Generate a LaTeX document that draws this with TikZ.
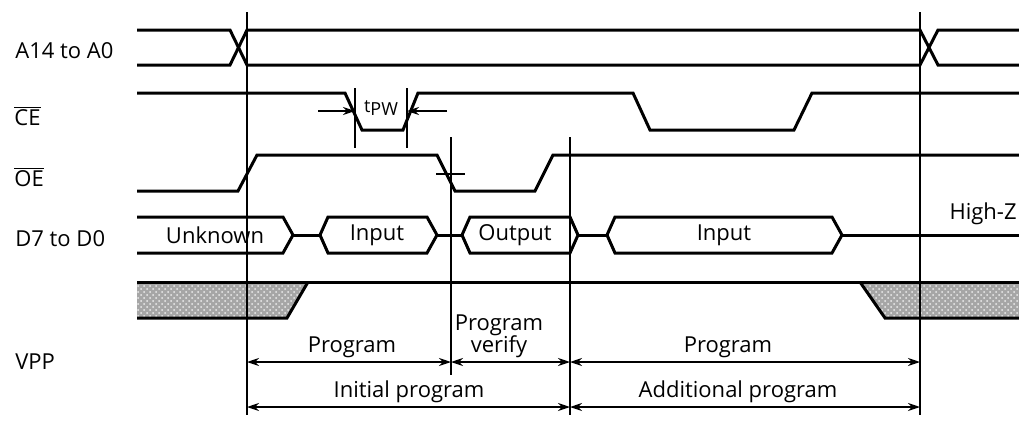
\documentclass[tikz,border=0pt]{standalone}
\usepackage{fontspec}
\setmainfont{Open Sans}
\usetikzlibrary{arrows.meta, patterns}

\begin{document}
\begin{tikzpicture}[x=0.5pt, y=-0.5pt,
    sig/.style={line width=1.5pt, line join=miter},
    marker/.style={line width=0.8pt},
    dim/.style={line width=0.75pt, {Stealth[length=6pt,width=4pt]}-{Stealth[length=6pt,width=4pt]}},
    lbl/.style={font=\fontsize{11}{13}\selectfont, inner sep=0pt},
    hatch/.style={fill=gray!70, postaction={pattern=crosshatch dots, pattern color=white!85!gray}}
]
\useasboundingbox (0,0) rectangle (1019,424);

% signal names
\node[lbl, anchor=west] (addr) at (15,51) {A14 to A0};
\node[lbl, anchor=west] (ce) at (14,116) {$\overline{\mbox{CE}}$};
\node[lbl, anchor=west] (oe) at (14,177) {$\overline{\mbox{OE}}$};
\node[lbl, anchor=west] (data) at (15,239) {D7 to D0};
\node[lbl, anchor=west] (vpp) at (15,362) {VPP};

% VPP hatched areas
\fill[hatch] (137,282) -- (308,282) -- (287,318) -- (137,318) -- cycle;
\fill[hatch] (860,282) -- (1019,282) -- (1019,318) -- (885,318) -- cycle;

% time markers
\draw[marker] (247,12) -- (247,415);
\draw[marker] (920,12) -- (920,415);
\draw[marker] (451,137) -- (451,375);
\draw[marker] (570,137) -- (570,415);

% A14 to A0
\draw[sig] (137,30) -- (230,30) -- (247,65) -- (920,65) -- (938,30) -- (1019,30);
\draw[sig] (137,65) -- (230,65) -- (247,30) -- (920,30) -- (938,65) -- (1019,65);

% CE
\draw[sig] (137,93) -- (345,93) -- (362,130) -- (403,130) -- (418,93) -- (633,93)
    -- (650,130) -- (794,130) -- (812,93) -- (1019,93);
\draw[marker] (355,88) -- (355,148);
\draw[marker] (407,88) -- (407,148);
\coordinate (pwl) at (355,111);
\coordinate (pwr) at (407,111);
\coordinate (pwl0) at (318,111);
\coordinate (pwr0) at (447,111);
\draw[marker, -{Stealth[length=6pt,width=4pt]}] (pwl0) -- (pwl);
\draw[marker, -{Stealth[length=6pt,width=4pt]}] (pwr0) -- (pwr);
\node[lbl] (tpw) at (381,108) {\fontsize{9}{10}\selectfont t\raisebox{-0.3ex}{PW}};

% OE
\draw[sig] (137,191) -- (238,191) -- (257,155) -- (437,155) -- (455,191) -- (535,191)
    -- (553,155) -- (1019,155);
\draw[marker] (436,174) -- (465,174);

% D7 to D0
\draw[sig] (137,217) -- (283,217) -- (293,235) -- (283,253) -- (137,253);
\draw[sig] (293,235) -- (320,235);
\draw[sig] (320,235) -- (328,217) -- (427,217) -- (437,235) -- (427,253) -- (328,253) -- cycle;
\draw[sig] (437,235) -- (462,235);
\draw[sig] (462,235) -- (470,217) -- (570,217) -- (578,235) -- (570,253) -- (470,253) -- cycle;
\draw[sig] (578,235) -- (607,235);
\draw[sig] (607,235) -- (615,217) -- (832,217) -- (842,235) -- (832,253) -- (615,253) -- cycle;
\draw[sig] (842,235) -- (1019,235);
\node[lbl] (unknown) at (215,235) {Unknown};
\node[lbl] (input1) at (377,235) {Input};
\node[lbl] (output) at (515,235) {Output};
\node[lbl] (input2) at (724,235) {Input};
\node[lbl, anchor=east] (highz) at (1017,214) {High-Z};

% VPP
\draw[sig] (137,282) -- (1019,282);
\draw[sig] (137,318) -- (287,318) -- (308,282);
\draw[sig] (860,282) -- (885,318) -- (1019,318);

% periods
\coordinate (a1) at (247,362);
\coordinate (a2) at (451,362);
\coordinate (a3) at (570,362);
\coordinate (a4) at (920,362);
\coordinate (b1) at (247,407);
\coordinate (b3) at (570,407);
\coordinate (b4) at (920,407);
\draw[dim] (a1) -- (a2);
\draw[dim] (a2) -- (a3);
\draw[dim] (a3) -- (a4);
\draw[dim] (b1) -- (b3);
\draw[dim] (b3) -- (b4);
\node[lbl] (prog1) at (352,347) {Program};
\node[lbl, align=center] (verify) at (499,336) {Program\\[-2pt]verify};
\node[lbl] (prog2) at (728,347) {Program};
\node[lbl] (initial) at (409,392) {Initial program};
\node[lbl] (additional) at (738,392) {Additional program};
\end{tikzpicture}
\end{document}
